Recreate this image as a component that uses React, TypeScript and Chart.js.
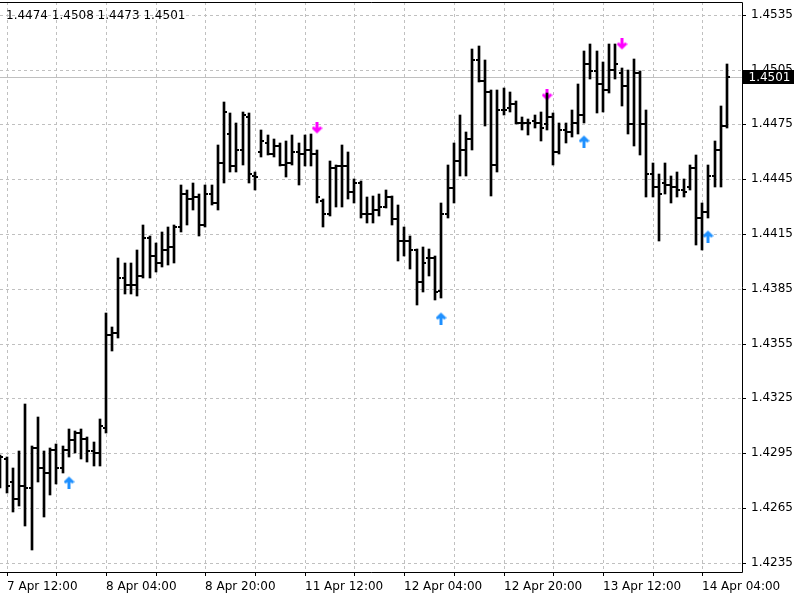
import React, { useEffect, useRef } from "react";
import { Chart, registerables } from "chart.js";

Chart.register(...registerables);

// Hourly OHLC bars, first entry is the bar one hour before "7 Apr 12:00"
const firstBar = -1;
const opens = [
  1.4287, 1.4292, 1.4279, 1.4270, 1.4277, 1.4276, 1.4298, 1.4287, 1.4284, 1.4297, 1.4287,
  1.4297, 1.4302, 1.4306, 1.4303, 1.4296, 1.4295, 1.4309, 1.4360, 1.4361, 1.4391,
  1.4387, 1.4387, 1.4392, 1.4413, 1.4403, 1.4399, 1.4406, 1.4408, 1.4419, 1.4437,
  1.4434, 1.4435, 1.4420, 1.4437, 1.4432, 1.4454, 1.4470, 1.4452, 1.4461, 1.4479,
  1.4447, 1.4460, 1.4465, 1.4459, 1.4463, 1.4453, 1.4454, 1.4460, 1.4459, 1.4461,
  1.4459, 1.4433, 1.4426, 1.4451, 1.4452, 1.4452, 1.4438, 1.4443, 1.4426, 1.4426,
  1.4428, 1.4430, 1.4435, 1.4423, 1.4411, 1.4411, 1.4406, 1.4389, 1.4402, 1.4402,
  1.4384, 1.4426, 1.4440, 1.4455, 1.4461, 1.4467, 1.4510, 1.4499, 1.4493, 1.4453,
  1.4483, 1.4484, 1.4486, 1.4476, 1.4476, 1.4477, 1.4476, 1.4475, 1.4479, 1.4460,
  1.4472, 1.4471, 1.4476, 1.4480, 1.4508, 1.4504, 1.4497, 1.4494, 1.4505, 1.4503,
  1.4496, 1.4475, 1.4503, 1.4475, 1.4448, 1.4441, 1.4443, 1.4442, 1.4441, 1.4439,
  1.4441, 1.4451, 1.4424, 1.4427, 1.4447, 1.4461, 1.4474,
];
const highs = [
  1.4294, 1.4293, 1.4287, 1.4296, 1.4322, 1.4299, 1.4315, 1.4296, 1.4298, 1.4300, 1.4299,
  1.4308, 1.4307, 1.4308, 1.4304, 1.4301, 1.4314, 1.4372, 1.4364, 1.4402, 1.4399,
  1.4399, 1.4406, 1.4420, 1.4414, 1.4410, 1.4416, 1.4419, 1.4420, 1.4442, 1.4439,
  1.4443, 1.4437, 1.4442, 1.4442, 1.4464, 1.4487, 1.4481, 1.4476, 1.4482, 1.4481,
  1.4449, 1.4472, 1.4469, 1.4467, 1.4465, 1.4466, 1.4469, 1.4465, 1.4469, 1.4470,
  1.4461, 1.4434, 1.4455, 1.4453, 1.4464, 1.4460, 1.4445, 1.4444, 1.4435, 1.4436,
  1.4437, 1.4439, 1.4436, 1.4431, 1.4419, 1.4414, 1.4407, 1.4408, 1.4407, 1.4403,
  1.4432, 1.4453, 1.4465, 1.4480, 1.4471, 1.4516, 1.4518, 1.4510, 1.4494, 1.4494,
  1.4495, 1.4493, 1.4488, 1.4479, 1.4478, 1.4480, 1.4482, 1.4492, 1.4481, 1.4476,
  1.4476, 1.4483, 1.4497, 1.4515, 1.4519, 1.4515, 1.4509, 1.4519, 1.4519, 1.4506,
  1.4505, 1.4511, 1.4504, 1.4483, 1.4454, 1.4448, 1.4454, 1.4447, 1.4449, 1.4445,
  1.4453, 1.4458, 1.4432, 1.4453, 1.4466, 1.4485, 1.4508,
];
const lows = [
  1.4276, 1.4273, 1.4263, 1.4266, 1.4255, 1.4242, 1.4279, 1.4260, 1.4272, 1.4278, 1.4284,
  1.4293, 1.4295, 1.4292, 1.4290, 1.4288, 1.4288, 1.4306, 1.4351, 1.4358, 1.4382,
  1.4382, 1.4381, 1.4391, 1.4391, 1.4394, 1.4397, 1.4398, 1.4399, 1.4416, 1.4420,
  1.4428, 1.4414, 1.4419, 1.4431, 1.4428, 1.4443, 1.4449, 1.4449, 1.4453, 1.4443,
  1.4439, 1.4457, 1.4458, 1.4457, 1.4452, 1.4446, 1.4453, 1.4442, 1.4452, 1.4452,
  1.4432, 1.4419, 1.4425, 1.4430, 1.4430, 1.4434, 1.4432, 1.4424, 1.4421, 1.4421,
  1.4425, 1.4429, 1.4420, 1.4400, 1.4403, 1.4396, 1.4376, 1.4383, 1.4392, 1.4379,
  1.4380, 1.4424, 1.4432, 1.4447, 1.4447, 1.4461, 1.4498, 1.4474, 1.4436, 1.4449,
  1.4480, 1.4482, 1.4475, 1.4472, 1.4469, 1.4473, 1.4466, 1.4472, 1.4453, 1.4459,
  1.4465, 1.4468, 1.4470, 1.4476, 1.4500, 1.4481, 1.4482, 1.4492, 1.4500, 1.4485,
  1.4470, 1.4463, 1.4458, 1.4435, 1.4435, 1.4411, 1.4437, 1.4432, 1.4435, 1.4435,
  1.4439, 1.4409, 1.4406, 1.4424, 1.4441, 1.4441, 1.4473,
];
const closes = [
  1.4293, 1.4277, 1.4270, 1.4277, 1.4276, 1.4298, 1.4287, 1.4284, 1.4297, 1.4287, 1.4297,
  1.4302, 1.4306, 1.4303, 1.4296, 1.4295, 1.4310, 1.4360, 1.4361, 1.4391, 1.4387,
  1.4387, 1.4392, 1.4413, 1.4403, 1.4399, 1.4406, 1.4408, 1.4419, 1.4437, 1.4434,
  1.4435, 1.4420, 1.4437, 1.4432, 1.4454, 1.4482, 1.4452, 1.4461, 1.4480, 1.4448,
  1.4446, 1.4466, 1.4459, 1.4463, 1.4453, 1.4454, 1.4460, 1.4459, 1.4461, 1.4459,
  1.4435, 1.4426, 1.4451, 1.4452, 1.4452, 1.4438, 1.4443, 1.4426, 1.4426, 1.4428,
  1.4430, 1.4435, 1.4423, 1.4411, 1.4411, 1.4406, 1.4389, 1.4399, 1.4402, 1.4383,
  1.4426, 1.4440, 1.4455, 1.4461, 1.4467, 1.4510, 1.4499, 1.4493, 1.4453, 1.4483,
  1.4483, 1.4486, 1.4476, 1.4476, 1.4476, 1.4476, 1.4473, 1.4479, 1.4460, 1.4472,
  1.4471, 1.4476, 1.4480, 1.4508, 1.4504, 1.4497, 1.4494, 1.4505, 1.4508, 1.4496,
  1.4475, 1.4503, 1.4475, 1.4448, 1.4441, 1.4437, 1.4442, 1.4441, 1.4439, 1.4438,
  1.4451, 1.4424, 1.4427, 1.4447, 1.4461, 1.4474, 1.4501,
];

// time labels shown on the axis every 16 bars, starting at bar 0
const xTickLabels = [
  "7 Apr 12:00", "8 Apr 04:00", "8 Apr 20:00", "11 Apr 12:00",
  "12 Apr 04:00", "12 Apr 20:00", "13 Apr 12:00", "14 Apr 04:00",
];
const yTickValues = [
  1.4235, 1.4265, 1.4295, 1.4325, 1.4355, 1.4385, 1.4415, 1.4445, 1.4475, 1.4505, 1.4535,
];

// signal arrows (bar index, price)
const upArrowBars = [10, 70, 93, 113];
const upArrowValues = [1.4279, 1.4369, 1.4466, 1.4414];
const downArrowBars = [50, 87, 99];
const downArrowValues = [1.4473, 1.4491, 1.4519];

const BARS_PER_LABEL = 16;
const BARS_PER_GRID = 8;
const FONT = "DejaVu Sans";

function makeTick(side: "left" | "right") {
  const c = document.createElement("canvas");
  c.width = 8;
  c.height = 2;
  const g = c.getContext("2d")!;
  g.fillStyle = "#000";
  if (side === "left") g.fillRect(1, 0, 3, 2);
  else g.fillRect(4, 0, 3, 2);
  return c;
}

function makeArrow(color: string, up: boolean) {
  const c = document.createElement("canvas");
  c.width = 11;
  c.height = 13;
  const g = c.getContext("2d")!;
  g.strokeStyle = color;
  g.lineWidth = 3;
  g.lineCap = "butt";
  g.lineJoin = "miter";
  const f = (y: number) => (up ? y : 13 - y);
  g.beginPath();
  g.moveTo(5.5, f(13));
  g.lineTo(5.5, f(3));
  g.moveTo(1.2, f(7.3));
  g.lineTo(5.5, f(3));
  g.lineTo(9.8, f(7.3));
  g.stroke();
  return c;
}

const overlayPlugin = {
  id: "mtOverlay",
  beforeDatasetsDraw(chart: any) {
    const { ctx, chartArea } = chart;
    const last = closes[closes.length - 1];
    const y = Math.round(chart.scales.y.getPixelForValue(last)) + 0.5;
    ctx.save();
    ctx.strokeStyle = "#c0c0c0";
    ctx.lineWidth = 1;
    ctx.beginPath();
    ctx.moveTo(chartArea.left, y);
    ctx.lineTo(chartArea.right, y);
    ctx.stroke();
    ctx.restore();
  },
  afterDraw(chart: any) {
    const { ctx, chartArea } = chart;
    const n = closes.length - 1;
    ctx.save();
    // frame
    ctx.strokeStyle = "#000";
    ctx.lineWidth = 1;
    ctx.beginPath();
    const t = Math.round(chartArea.top) + 0.5;
    const r = Math.round(chartArea.right) + 0.5;
    const b = Math.round(chartArea.bottom) + 0.5;
    ctx.moveTo(chartArea.left, t);
    ctx.lineTo(r, t);
    ctx.lineTo(r, b);
    ctx.lineTo(chartArea.left, b);
    ctx.stroke();
    // current price box
    const last = closes[n];
    const y = Math.round(chart.scales.y.getPixelForValue(last));
    ctx.fillStyle = "#000";
    ctx.fillRect(r + 0.5, y - 7, 51, 14);
    ctx.fillStyle = "#fff";
    ctx.font = `12px "${FONT}"`;
    ctx.textBaseline = "middle";
    ctx.textAlign = "left";
    ctx.fillText(last.toFixed(4), r + 6, y + 0.5);
    // OHLC of last bar
    ctx.fillStyle = "#000";
    ctx.fillText(
      [opens[n], highs[n], lows[n], closes[n]].map((v) => v.toFixed(4)).join(" "),
      6,
      16
    );
    ctx.restore();
  },
};

export default function App() {
  const ref = useRef<HTMLCanvasElement>(null);

  useEffect(() => {
    if (!ref.current) return;
    Chart.defaults.font.family = FONT;
    Chart.defaults.font.size = 12;
    Chart.defaults.color = "#000";

    const xs = highs.map((_, k) => k + firstBar);
    const gridBars: number[] = [];
    for (let v = 0; v <= xs[xs.length - 1]; v += BARS_PER_GRID) gridBars.push(v);

    const chart = new Chart(ref.current, {
      type: "bar",
      data: {
        datasets: [
          {
            type: "line",
            data: opens.map((o, k) => ({ x: xs[k], y: o })),
            showLine: false,
            pointStyle: makeTick("left") as any,
            pointRadius: 4,
            pointHoverRadius: 4,
          } as any,
          {
            type: "line",
            data: closes.map((c, k) => ({ x: xs[k], y: c })),
            showLine: false,
            pointStyle: makeTick("right") as any,
            pointRadius: 4,
            pointHoverRadius: 4,
          } as any,
          {
            type: "bar",
            data: highs.map((h, k) => ({ x: xs[k], y: [lows[k], h] })),
            backgroundColor: "#000",
            borderWidth: 0,
            barThickness: 2,
            grouped: false,
          } as any,
          {
            type: "line",
            data: upArrowBars.map((b, k) => ({ x: b, y: upArrowValues[k] })),
            showLine: false,
            pointStyle: makeArrow("#1e90ff", true) as any,
            pointRadius: 6,
          } as any,
          {
            type: "line",
            data: downArrowBars.map((b, k) => ({ x: b, y: downArrowValues[k] })),
            showLine: false,
            pointStyle: makeArrow("#ff00ff", false) as any,
            pointRadius: 6,
          } as any,
        ],
      },
      options: {
        animation: false,
        responsive: false,
        devicePixelRatio: 1,
        events: [],
        layout: { autoPadding: false, padding: { top: 2, left: 0, right: 0, bottom: 0 } },
        plugins: { legend: { display: false }, tooltip: { enabled: false } },
        scales: {
          x: {
            type: "linear",
            min: -1.08,
            max: 118.4,
            offset: false,
            alignToPixels: true,
            afterBuildTicks: (s: any) => {
              s.ticks = gridBars.map((v) => ({ value: v }));
            },
            afterFit: (s: any) => {
              s.height = 28;
              s.paddingLeft = 0;
              s.paddingRight = 0;
            },
            grid: {
              color: "#c0c0c0",
              lineWidth: 1,
              offset: false,
              tickLength: 4,
              tickColor: "#000",
            },
            border: { display: false, dash: [3, 3] },
            ticks: {
              autoSkip: false,
              maxRotation: 0,
              minRotation: 0,
              align: "start",
              padding: 4,
              color: "#000",
              font: { family: FONT, size: 12 },
              callback: (v: any) =>
                v % BARS_PER_LABEL === 0 ? xTickLabels[v / BARS_PER_LABEL] : "",
            },
          } as any,
          y: {
            type: "linear",
            position: "right",
            min: 1.423,
            max: 1.4542,
            alignToPixels: true,
            afterBuildTicks: (s: any) => {
              s.ticks = yTickValues.map((v) => ({ value: v }));
            },
            afterFit: (s: any) => {
              s.width = 58;
              s.paddingTop = 0;
              s.paddingBottom = 0;
            },
            grid: {
              color: "#c0c0c0",
              lineWidth: 1,
              tickLength: 4,
              tickColor: "#000",
            },
            border: { display: false, dash: [3, 3] },
            ticks: {
              padding: 5,
              color: "#000",
              font: { family: FONT, size: 12 },
              callback: (v: any) => Number(v).toFixed(4),
            },
          } as any,
        },
      },
      plugins: [overlayPlugin],
    });
    return () => chart.destroy();
  }, []);

  return (
    <div style={{ position: "absolute", left: 0, top: 0, width: 800, height: 600, background: "#fff" }}>
      <canvas ref={ref} width={800} height={600} style={{ display: "block" }} />
    </div>
  );
}
